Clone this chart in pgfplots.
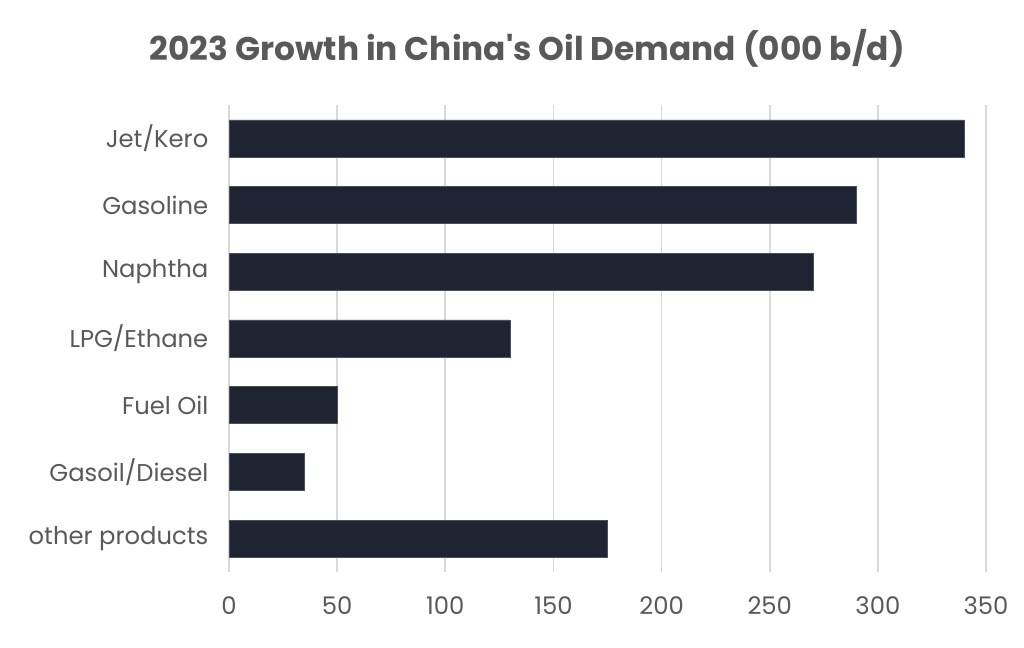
\documentclass[border=0pt]{standalone}
\usepackage{fontspec}
\setmainfont{Poppins}
\newfontfamily\titlefont{Poppins}[Ligatures=TeXOff]
\usepackage{pgfplots}
\pgfplotsset{compat=1.18}
\definecolor{barc}{HTML}{1F2433}
\definecolor{txt}{HTML}{595959}
\definecolor{grd}{HTML}{D9D9D9}
\begin{document}
\begin{tikzpicture}
\path[use as bounding box] (0,0) rectangle (768pt,486pt);
\node[font=\titlefont\fontsize{24.6}{28}\selectfont\bfseries, text=txt] at (395.5pt,450pt) {2023 Growth in China's Oil Demand (000 b/d)};
\begin{axis}[
  at={(171.75pt,57pt)}, anchor=south west,
  scale only axis, width=567.75pt, height=350.25pt,
  xbar, bar width=27.75pt,
  xmin=0, xmax=350, ymin=-0.5, ymax=6.5,
  xtick={0,50,...,350},
  ytick={0,1,2,3,4,5,6},
  yticklabels={other products,Gasoil/Diesel,Fuel Oil,LPG/Ethane,Naphtha,Gasoline,Jet/Kero},
  axis line style={draw=none},
  major tick length=0pt,
  xmajorgrids, grid style={grd, line width=1.2pt},
  /pgf/number format/assume math mode=true,
  tick label style={font=\fontsize{18.2}{21}\selectfont, text=txt},
  xticklabel style={yshift=-15pt},
  yticklabel style={xshift=-12pt},
]
\addplot[fill=barc, draw=barc!80!white] coordinates {
(175,0) (35,1) (50,2) (130,3) (270,4) (290,5) (340,6)};
\end{axis}
\end{tikzpicture}
\end{document}
